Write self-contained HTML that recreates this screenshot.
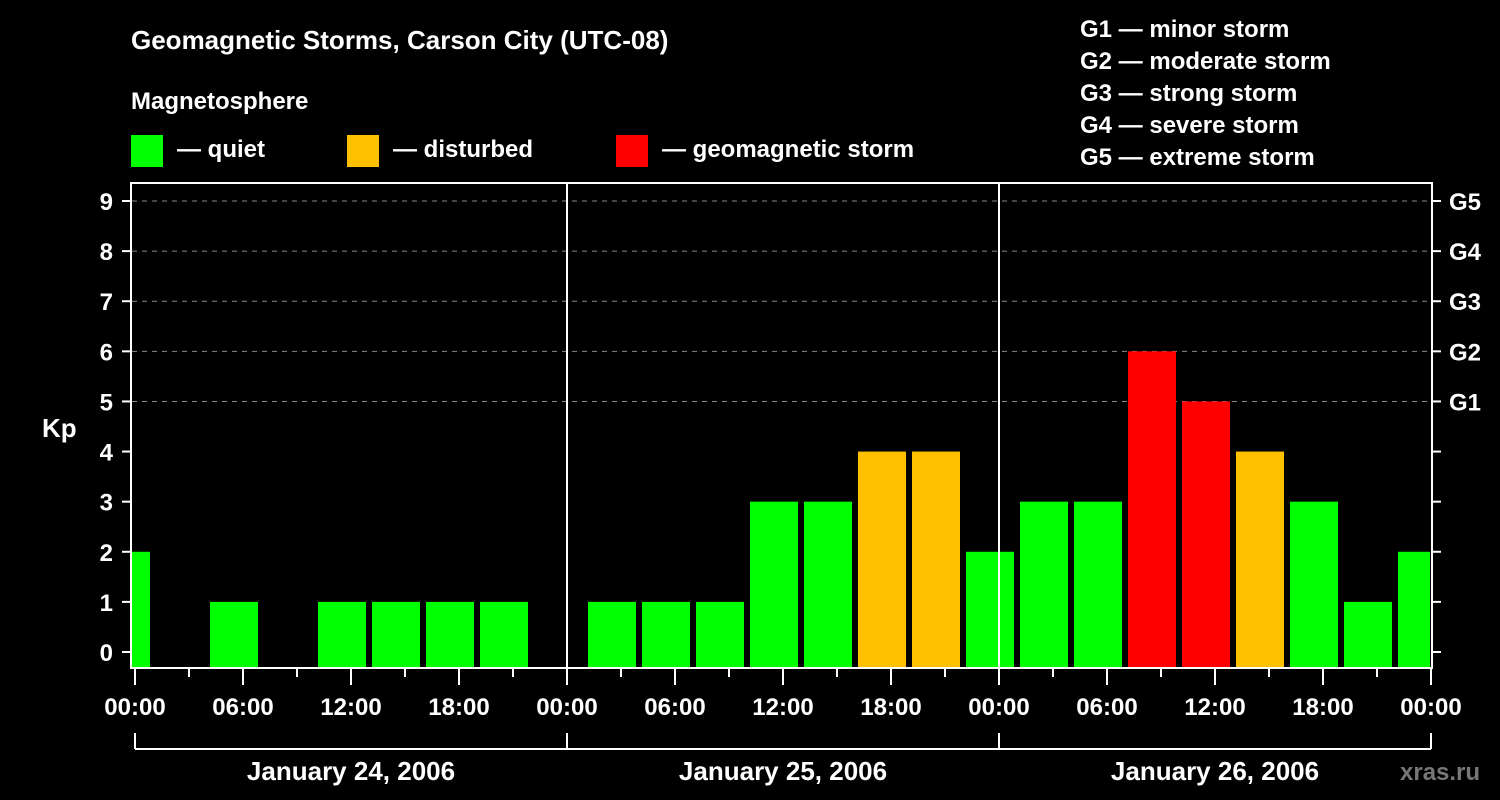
<!DOCTYPE html>
<html><head><meta charset="utf-8"><style>
body{margin:0;background:#000;}
svg{display:block;font-family:"Liberation Sans",Arial,sans-serif;font-weight:bold;}
</style></head><body>
<svg id="chart" width="1500" height="800" viewBox="0 0 1500 800" xmlns="http://www.w3.org/2000/svg">
<rect width="1500" height="800" fill="#000"/>
<text x="131" y="49" fill="#fff" font-size="26">Geomagnetic Storms, Carson City (UTC-08)</text>
<text x="131" y="109" fill="#fff" font-size="24">Magnetosphere</text>
<g><rect x="131" y="135" width="32" height="32" fill="#00ff00"/><text x="177" y="157" fill="#fff" font-size="24">— quiet</text></g>
<g><rect x="347" y="135" width="32" height="32" fill="#ffc000"/><text x="393" y="157" fill="#fff" font-size="24">— disturbed</text></g>
<g><rect x="616" y="135" width="32" height="32" fill="#ff0000"/><text x="662" y="157" fill="#fff" font-size="24">— geomagnetic storm</text></g>
<g fill="#fff" font-size="24">
<text x="1080" y="37">G1 — minor storm</text>
<text x="1080" y="69">G2 — moderate storm</text>
<text x="1080" y="101">G3 — strong storm</text>
<text x="1080" y="133">G4 — severe storm</text>
<text x="1080" y="165">G5 — extreme storm</text>
</g>
<defs><clipPath id="plotclip"><rect x="132" y="184" width="1298" height="484"/></clipPath></defs>
<g id="grid"></g>
<g id="bars" clip-path="url(#plotclip)"></g>
<g id="axes"></g>
<text x="42" y="437" fill="#fff" font-size="26">Kp</text>
<text x="1400" y="780" fill="#777" font-size="24">xras.ru</text>
</svg>
<script>
const hours = [-0.5,2.5,5.5,8.5,11.5,14.5,17.5,20.5,23.5,26.5,29.5,32.5,35.5,38.5,41.5,44.5,47.5,50.5,53.5,56.5,59.5,62.5,65.5,68.5,71.5];
const kpValues = [2,0,1,0,1,1,1,1,0,1,1,1,3,3,4,4,2,3,3,6,5,4,3,1,2];
const yTicks = [0,1,2,3,4,5,6,7,8,9];
const gLabels = ["G1","G2","G3","G4","G5"];
const gLevels = [5,6,7,8,9];
const timeLabels = ["00:00","06:00","12:00","18:00","00:00","06:00","12:00","18:00","00:00","06:00","12:00","18:00","00:00"];
const dayLabels = ["January 24, 2006","January 25, 2006","January 26, 2006"];
const NS="http://www.w3.org/2000/svg";
const X0=135, PXH=18, Y0=652, PYK=50.11, BOT=668;
const xs=h=>X0+h*PXH, ys=k=>Y0-k*PYK;
function mk(tag,attrs,parent){const e=document.createElementNS(NS,tag);for(const k in attrs)e.setAttribute(k,attrs[k]);parent.appendChild(e);return e;}
const grid=document.getElementById('grid'),bars=document.getElementById('bars'),axes=document.getElementById('axes');
gLevels.forEach(k=>{const l=mk('line',{x1:132,x2:1430,y1:ys(k),y2:ys(k),stroke:'#888','stroke-width':1,'stroke-dasharray':'5,5'},grid);

});
hours.forEach((h,i)=>{const v=kpValues[i];if(v<=0)return;
const c=v>=5?'#ff0000':(v==4?'#ffc000':'#00ff00');
const r=mk('rect',{x:xs(h)-24,y:ys(v),width:48,height:BOT-ys(v),fill:c},bars);

});
[1,2].forEach(d=>{const l=mk('line',{x1:xs(24*d),x2:xs(24*d),y1:183,y2:668,stroke:'#fff','stroke-width':2},axes);

});
const fr=mk('rect',{x:131,y:183,width:1301,height:485,fill:'none',stroke:'#fff','stroke-width':2},axes);


yTicks.forEach(k=>{const y=ys(k);
mk('line',{x1:122,x2:131,y1:y,y2:y,stroke:'#fff','stroke-width':2},axes);
mk('line',{x1:1432,x2:1441,y1:y,y2:y,stroke:'#fff','stroke-width':2},axes);
const t=mk('text',{x:113,y:y+9,fill:'#fff','font-size':24,'text-anchor':'end'},axes);t.textContent=k;

});
gLevels.forEach((k,i)=>{const t=mk('text',{x:1449,y:ys(k)+9,fill:'#fff','font-size':24},axes);t.textContent=gLabels[i];

});
for(let h=0;h<=72;h+=3){const major=h%6==0;
mk('line',{x1:xs(h),x2:xs(h),y1:669,y2:major?685:677,stroke:'#fff','stroke-width':2},axes);}
timeLabels.forEach((s,i)=>{const t=mk('text',{x:xs(i*6),y:715,fill:'#fff','font-size':24,'text-anchor':'middle'},axes);t.textContent=s;

});
mk('line',{x1:xs(0),x2:xs(72),y1:749,y2:749,stroke:'#fff','stroke-width':2},axes);
for(let d=0;d<=3;d++)mk('line',{x1:xs(24*d),x2:xs(24*d),y1:733,y2:749,stroke:'#fff','stroke-width':2},axes);
dayLabels.forEach((s,i)=>{const t=mk('text',{x:xs(24*i+12),y:780,fill:'#fff','font-size':26,'text-anchor':'middle'},axes);t.textContent=s;

});
</script>
</body></html>
